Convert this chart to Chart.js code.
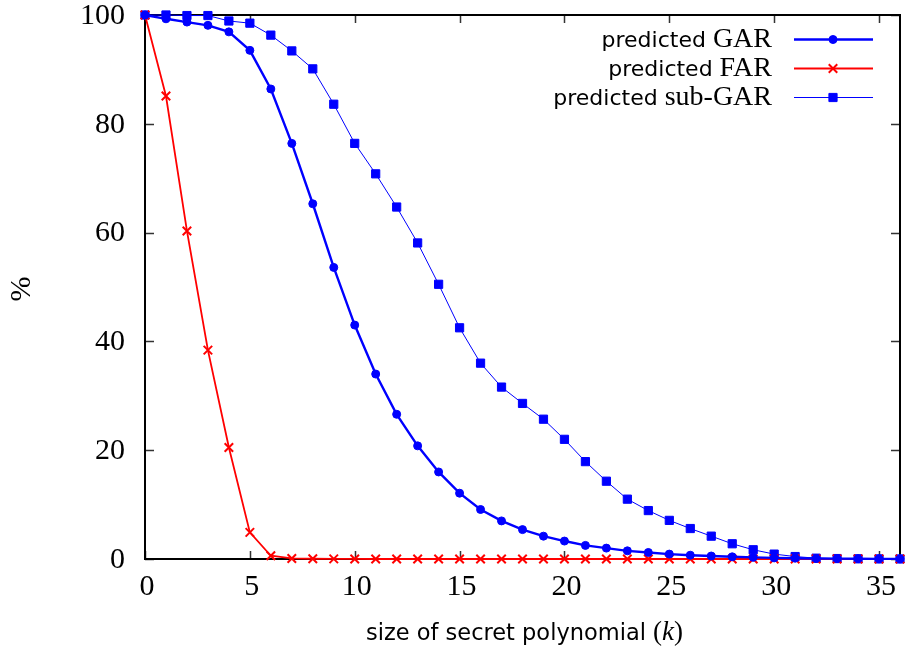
<!DOCTYPE html>
<html>
<head>
<meta charset="utf-8">
<script src="https://cdn.jsdelivr.net/npm/chart.js@4.4.1/dist/chart.umd.min.js"></script>
<style>
	html, body { margin: 0; padding: 0; background: #fff; }
	canvas { display: block; }
</style>
</head>
<body>
<canvas id="chart" width="908" height="653"></canvas>
<script>
// size of secret polynomial k
const kValues = [0, 1, 2, 3, 4, 5, 6, 7, 8, 9, 10, 11, 12, 13, 14, 15, 16, 17, 18,
	19, 20, 21, 22, 23, 24, 25, 26, 27, 28, 29, 30, 31, 32, 33, 34, 35, 36];

const garValues = [100, 99.3, 98.7, 98.1, 96.9, 93.5, 86.4, 76.4, 65.3, 53.6, 43.0,
	34.0, 26.6, 20.8, 16.0, 12.1, 9.1, 7.0, 5.4, 4.2, 3.3, 2.5, 2.0, 1.5, 1.2, 0.9,
	0.7, 0.55, 0.4, 0.3, 0.2, 0.15, 0.1, 0.07, 0.05, 0.03, 0.02];

const farValues = [100, 85.1, 60.3, 38.4, 20.5, 4.9, 0.6, 0.1, 0.05, 0.02, 0.01, 0,
	0, 0, 0, 0, 0, 0, 0, 0, 0, 0, 0, 0, 0, 0, 0, 0, 0, 0, 0, 0, 0, 0, 0, 0, 0];

const subGarValues = [100, 100, 99.9, 99.9, 98.9, 98.5, 96.3, 93.4, 90.1, 83.6, 76.4,
	70.8, 64.7, 58.1, 50.5, 42.5, 36.0, 31.6, 28.6, 25.7, 22.0, 17.9, 14.3, 11.0, 8.9,
	7.1, 5.6, 4.2, 2.8, 1.7, 0.9, 0.45, 0.15, 0.08, 0.04, 0.02, 0.01];

const seriesNames = [
	['predicted ', 'GAR'],
	['predicted ', 'FAR'],
	['predicted ', 'sub-GAR']
];

const SERIF = '"Liberation Serif", "DejaVu Serif", serif';
const SANS = '"DejaVu Sans", "Liberation Sans", sans-serif';

const toPoints = (ys) => kValues.map((x, i) => ({ x, y: ys[i] }));

const series = [
	{ data: garValues, color: '#0000ff', width: 2.4, style: 'circle', radius: 4 },
	{ data: farValues, color: '#ff0000', width: 1.8, style: 'crossRot', radius: 6 },
	{ data: subGarValues, color: '#0000ff', width: 1, style: 'rect', radius: 5.8 }
];

const datasets = series.map((s, i) => ({
	label: seriesNames[i].join(''),
	data: toPoints(s.data),
	borderColor: s.color,
	backgroundColor: s.color,
	borderWidth: s.width,
	pointStyle: s.style,
	pointRadius: s.radius,
	pointBorderWidth: s.style == 'crossRot' ? 2 : 1,
	pointBorderColor: s.color,
	pointBackgroundColor: s.color,
	tension: 0,
	clip: false
}));

// box with inward ticks on all four sides, drawn under the data
const frame = {
	id: 'frame',
	beforeDatasetsDraw(chart) {
		const { ctx, chartArea: a, scales: { x, y } } = chart;
		ctx.save();
		ctx.strokeStyle = '#333';
		ctx.lineWidth = 1.5;
		ctx.beginPath();
		x.ticks.forEach(t => {
			const px = Math.round(x.getPixelForValue(t.value)) + 0.5;
			ctx.moveTo(px, a.bottom); ctx.lineTo(px, a.bottom - 8);
			ctx.moveTo(px, a.top); ctx.lineTo(px, a.top + 8);
		});
		y.ticks.forEach(t => {
			const py = Math.round(y.getPixelForValue(t.value)) + 0.5;
			ctx.moveTo(a.left, py); ctx.lineTo(a.left + 9, py);
			ctx.moveTo(a.right, py); ctx.lineTo(a.right - 9, py);
		});
		ctx.stroke();
		ctx.strokeStyle = '#000';
		ctx.lineWidth = 2;
		ctx.strokeRect(a.left, a.top, a.right - a.left, a.bottom - a.top);
		ctx.restore();
	},
	afterDraw(chart) {
		const { ctx, chartArea: a, scales: { x, y } } = chart;
		ctx.save();
		ctx.fillStyle = '#000';
		ctx.font = '30px ' + SERIF;
		ctx.textBaseline = 'middle';

		ctx.textAlign = 'center';
		x.ticks.forEach(t => {
			ctx.fillText(String(t.value), x.getPixelForValue(t.value) + 2, a.bottom + 28);
		});
		ctx.textAlign = 'right';
		y.ticks.forEach(t => {
			ctx.fillText(String(t.value), a.left - 20, y.getPixelForValue(t.value) + 1);
		});

		// y title
		ctx.save();
		ctx.translate(22, 289);
		ctx.rotate(-Math.PI / 2);
		ctx.textAlign = 'center';
		ctx.fillText('%', 0, 0);
		ctx.restore();

		// x title: sans words, italic serif k
		ctx.textAlign = 'left';
		ctx.textBaseline = 'alphabetic';
		const parts = [
			['size of secret polynomial ', '22.5px ' + SANS],
			['(', '27px ' + SERIF],
			['k', 'italic 27px ' + SERIF],
			[')', '27px ' + SERIF]
		];
		let total = 0;
		parts.forEach(p => { ctx.font = p[1]; total += ctx.measureText(p[0]).width; });
		let cx = 524.5 - total / 2;
		parts.forEach(p => {
			ctx.font = p[1];
			ctx.fillText(p[0], cx, 640);
			cx += ctx.measureText(p[0]).width;
		});

		// legend, text right aligned against the line samples
		const rowY = [39, 68, 97];
		series.forEach((s, i) => {
			const ly = rowY[i];
			ctx.fillStyle = '#000';
			ctx.textBaseline = 'alphabetic';
			ctx.font = '28px ' + SERIF;
			const w2 = ctx.measureText(seriesNames[i][1]).width;
			ctx.fillText(seriesNames[i][1], 772 - w2, ly + 8);
			ctx.font = '22px ' + SANS;
			const w1 = ctx.measureText(seriesNames[i][0]).width;
			ctx.fillText(seriesNames[i][0], 772 - w2 - w1, ly + 8);

			ctx.strokeStyle = s.color;
			ctx.lineWidth = s.width;
			ctx.beginPath();
			ctx.moveTo(794, ly + 0.5);
			ctx.lineTo(873, ly + 0.5);
			ctx.stroke();
			ctx.fillStyle = s.color;
			ctx.lineWidth = s.style == 'crossRot' ? 2 : 1;
			Chart.helpers.drawPoint(ctx, { pointStyle: s.style, radius: s.radius, borderWidth: 1, rotation: 0 }, 833, ly + 0.5);
		});
		ctx.restore();
	}
};

new Chart(document.getElementById('chart'), {
	type: 'line',
	data: { datasets },
	options: {
		responsive: false,
		animation: false,
		layout: { padding: { left: 145, top: 15, right: 1, bottom: 94 } },
		plugins: { legend: { display: false }, tooltip: { enabled: false } },
		scales: {
			x: {
				type: 'linear',
				display: false,
				min: 0,
				max: 36,
				ticks: { stepSize: 5, includeBounds: false }
			},
			y: {
				display: false,
				min: 0,
				max: 100,
				ticks: { stepSize: 20 }
			}
		}
	},
	plugins: [frame]
});
</script>
</body>
</html>
